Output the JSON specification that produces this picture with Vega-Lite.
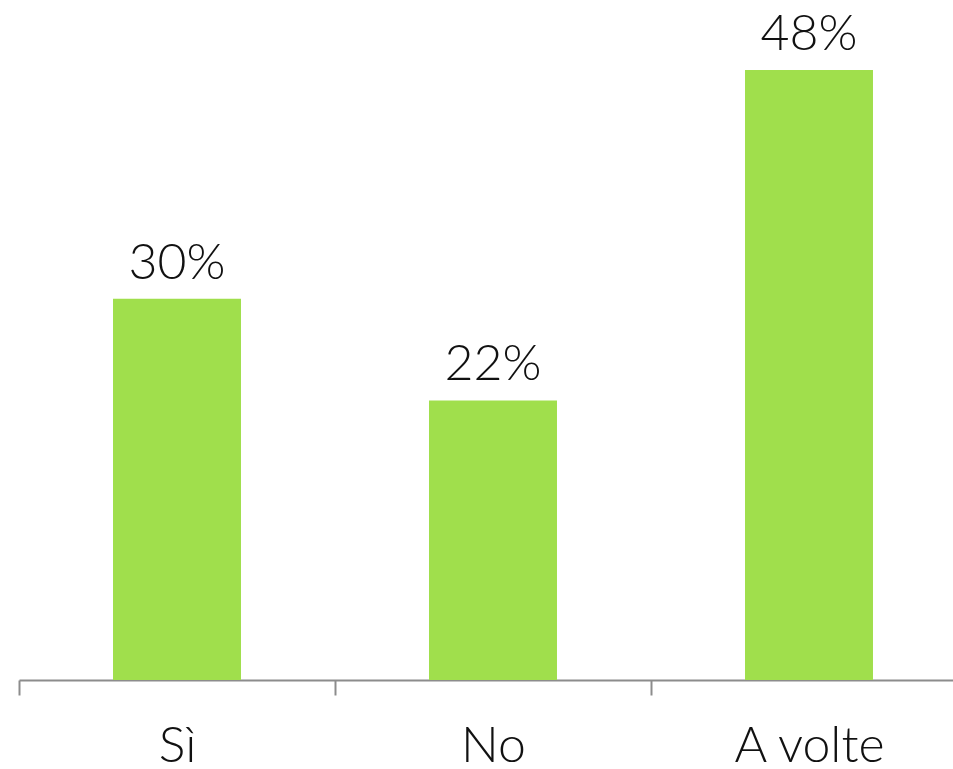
{
  "$schema": "https://vega.github.io/schema/vega-lite/v6.json",
  "autosize": "none",
  "padding": {"left": 19, "top": 70, "right": 0, "bottom": 89},
  "width": 948,
  "height": 610,
  "background": "white",
  "data": {"values": [
    {"risposta": "Sì", "valore": 0.30, "etichetta": "30%"},
    {"risposta": "No", "valore": 0.22, "etichetta": "22%"},
    {"risposta": "A volte", "valore": 0.48, "etichetta": "48%"}
  ]},
  "encoding": {
    "x": {"field": "risposta", "type": "nominal", "sort": null,
      "scale": {"paddingInner": 0, "paddingOuter": 0},
      "axis": {"title": null, "labelAngle": 0, "tickBand": "extent", "domainColor": "#8c8c8c", "domainWidth": 2, "tickColor": "#8c8c8c", "tickWidth": 2, "tickSize": 15, "labelFont": "Lato", "labelFontWeight": 300, "labelFontSize": 50, "labelColor": "#111111", "labelBaseline": "alphabetic", "labelPadding": 66}},
    "y": {"field": "valore", "type": "quantitative", "scale": {"domain": [0, 0.48], "nice": false, "zero": true}, "axis": null}
  },
  "layer": [
    {"mark": {"type": "bar", "color": "#a0df4c", "width": {"band": 0.405}}},
    {"mark": {"type": "text", "baseline": "alphabetic", "dy": -20, "font": "Lato", "fontWeight": 300, "fontSize": 50, "color": "#111111"},
     "encoding": {"text": {"field": "etichetta"}}}
  ],
  "config": {"view": {"stroke": null}, "axis": {"grid": false}}
}
